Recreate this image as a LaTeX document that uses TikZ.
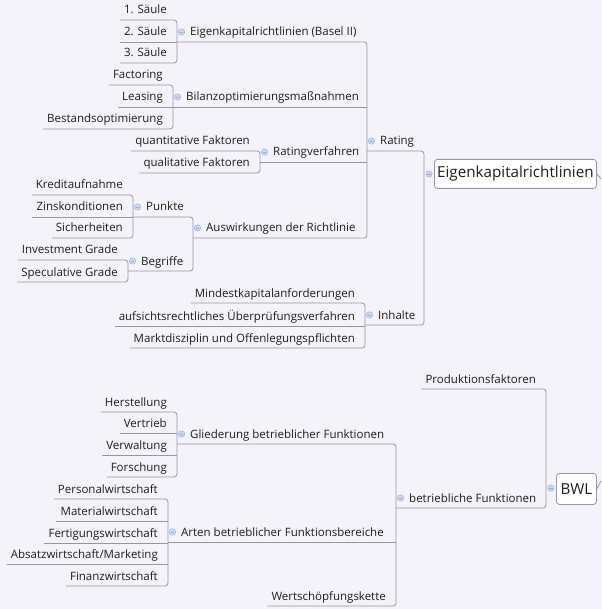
\documentclass[tikz,border=0pt]{standalone}
\usepackage{fontspec}
\setmainfont{Open Sans}
\usetikzlibrary{calc}
\definecolor{bg}{RGB}{243,243,249}
\definecolor{lnc}{RGB}{150,150,160}
\definecolor{tx}{RGB}{30,30,30}
\definecolor{dotf}{RGB}{200,216,242}
\definecolor{dotd}{RGB}{150,175,215}
\tikzset{
 lbl/.style={inner sep=0pt, text=tx, font=\fontsize{11.5}{13}\selectfont},
 conn/.style={draw=lnc, line width=0.8pt, rounded corners=3pt},
 rootbox/.style={draw=lnc, fill=white, rounded corners=3pt, line width=0.8pt, inner sep=0pt, text=tx, font=\fontsize{15.2}{18}\selectfont},
 dot/.style={circle, fill=dotf, draw=dotd, line width=0.4pt, minimum size=6.5pt, inner sep=0pt},
}
\newcommand\leafnode[4]{\node[lbl,anchor=base east] (#1) at (#2-10,#3-6) {#4};
  \coordinate (#1-l) at ($(#1.base west)+(-4,6)$);}
\newcommand\parnode[4]{\node[dot] (#1-d) at (#2+4.5,#3-10) {};
  \draw[dotd, line width=0.6pt] ($(#1-d)+(-1.6,0)$) -- ($(#1-d)+(1.6,0)$);
  \node[lbl,anchor=base west] (#1) at (#2+13,#3-6) {#4};
  \coordinate (#1-l) at (#2,#3);}
\begin{document}
\begin{tikzpicture}[x=1pt,y=-1pt]
\fill[bg] (0,0) rectangle (601,609);
\useasboundingbox (0,0) rectangle (601,609);

% ---------- Eigenkapitalrichtlinien ----------
\node[rootbox, minimum width=162pt, minimum height=29pt, anchor=north west] (ekr) at (434,159) {Eigenkapitalrichtlinien};
\node[dot] (ekr-d) at (429,174) {};
\draw[dotd, line width=0.6pt] ($(ekr-d)+(-1.6,0)$) -- ($(ekr-d)+(1.6,0)$);
\coordinate (ekr-l) at (424,174);
\coordinate (ekr-out) at (601,179);
\draw[conn] (ekr.east) -- (ekr-out);

\parnode{rat}{367}{151}{Rating}
\parnode{inh}{365}{325}{Inhalte}

\parnode{basel}{177}{42}{Eigenkapitalrichtlinien (Basel II)}
\leafnode{s1}{177}{20}{1. Säule}
\leafnode{s2}{177}{42}{2. Säule}
\leafnode{s3}{177}{63}{3. Säule}

\parnode{bil}{173}{107}{Bilanzoptimierungsmaßnahmen}
\leafnode{fac}{173}{85}{Factoring}
\leafnode{lea}{173}{107}{Leasing}
\leafnode{bes}{173}{129}{Bestandsoptimierung}

\parnode{rv}{260}{162}{Ratingverfahren}
\leafnode{qn}{260}{151}{quantitative Faktoren}
\leafnode{ql}{260}{173}{qualitative Faktoren}

\parnode{aus}{193}{238}{Auswirkungen der Richtlinie}
\parnode{pkt}{133}{217}{Punkte}
\leafnode{kre}{133}{195}{Kreditaufnahme}
\leafnode{zin}{133}{217}{Zinskonditionen}
\leafnode{sic}{133}{238}{Sicherheiten}
\parnode{beg}{128}{271}{Begriffe}
\leafnode{inv}{128}{260}{Investment Grade}
\leafnode{spe}{128}{282}{Speculative Grade}

\leafnode{min}{365}{303}{Mindestkapitalanforderungen}
\leafnode{auf}{365}{326}{aufsichtsrechtliches Überprüfungsverfahren}
\leafnode{mar}{365}{348}{Marktdisziplin und Offenlegungspflichten}

% connectors (top)
\draw[conn] (rat-l) -- (rat-l -| ekr-l) -- (inh-l -| ekr-l) -- (inh-l);
\draw[conn] (basel-l) -- (basel-l -| rat-l) -- (aus-l -| rat-l) -- (aus-l);
\draw[conn] (bil-l) -- (bil-l -| rat-l);
\draw[conn] (rv-l) -- (rv-l -| rat-l);
\draw[conn] (s1-l) -- (s1-l -| basel-l) -- (s3-l -| basel-l) -- (s3-l);
\draw[conn] (s2-l) -- (s2-l -| basel-l);
\draw[conn] (fac-l) -- (fac-l -| bil-l) -- (bes-l -| bil-l) -- (bes-l);
\draw[conn] (lea-l) -- (lea-l -| bil-l);
\draw[conn] (qn-l) -- (qn-l -| rv-l) -- (ql-l -| rv-l) -- (ql-l);
\draw[conn] (pkt-l) -- (pkt-l -| aus-l) -- (beg-l -| aus-l) -- (beg-l);
\draw[conn] (kre-l) -- (kre-l -| pkt-l) -- (sic-l -| pkt-l) -- (sic-l);
\draw[conn] (zin-l) -- (zin-l -| pkt-l);
\draw[conn] (inv-l) -- (inv-l -| beg-l) -- (spe-l -| beg-l) -- (spe-l);
\draw[conn] (min-l) -- (min-l -| inh-l) -- (mar-l -| inh-l) -- (mar-l);
\draw[conn] (auf-l) -- (auf-l -| inh-l);

% ---------- BWL ----------
\node[rootbox, minimum width=40pt, minimum height=31pt, anchor=north west] (bwl) at (556,473) {BWL};
\node[dot] (bwl-d) at (551,488) {};
\draw[dotd, line width=0.6pt] ($(bwl-d)+(-1.6,0)$) -- ($(bwl-d)+(1.6,0)$);
\coordinate (bwl-l) at (546,488);
\coordinate (bwl-out) at (601,481);
\draw[conn] (bwl.east) -- (bwl-out);

\leafnode{pro}{546}{389}{Produktionsfaktoren}
\parnode{bf}{396}{508}{betriebliche Funktionen}
\parnode{gl}{177}{444}{Gliederung betrieblicher Funktionen}
\leafnode{her}{177}{412}{Herstellung}
\leafnode{vtr}{177}{433}{Vertrieb}
\leafnode{vwl}{177}{455}{Verwaltung}
\leafnode{for}{177}{477}{Forschung}
\parnode{art}{168}{542}{Arten betrieblicher Funktionsbereiche}
\leafnode{per}{168}{499}{Personalwirtschaft}
\leafnode{mat}{168}{521}{Materialwirtschaft}
\leafnode{fer}{168}{543}{Fertigungswirtschaft}
\leafnode{abs}{168}{564}{Absatzwirtschaft/Marketing}
\leafnode{fin}{168}{586}{Finanzwirtschaft}
\leafnode{wer}{396}{606}{Wertschöpfungskette}

\draw[conn] (pro-l) -- (pro-l -| bwl-l) -- (bf-l -| bwl-l) -- (bf-l);
\draw[conn] (gl-l) -- (gl-l -| bf-l) -- (wer-l -| bf-l) -- (wer-l);
\draw[conn] (art-l) -- (art-l -| bf-l);
\draw[conn] (her-l) -- (her-l -| gl-l) -- (for-l -| gl-l) -- (for-l);
\draw[conn] (vtr-l) -- (vtr-l -| gl-l);
\draw[conn] (vwl-l) -- (vwl-l -| gl-l);
\draw[conn] (per-l) -- (per-l -| art-l) -- (fin-l -| art-l) -- (fin-l);
\draw[conn] (mat-l) -- (mat-l -| art-l);
\draw[conn] (fer-l) -- (fer-l -| art-l);
\draw[conn] (abs-l) -- (abs-l -| art-l);
\end{tikzpicture}
\end{document}
